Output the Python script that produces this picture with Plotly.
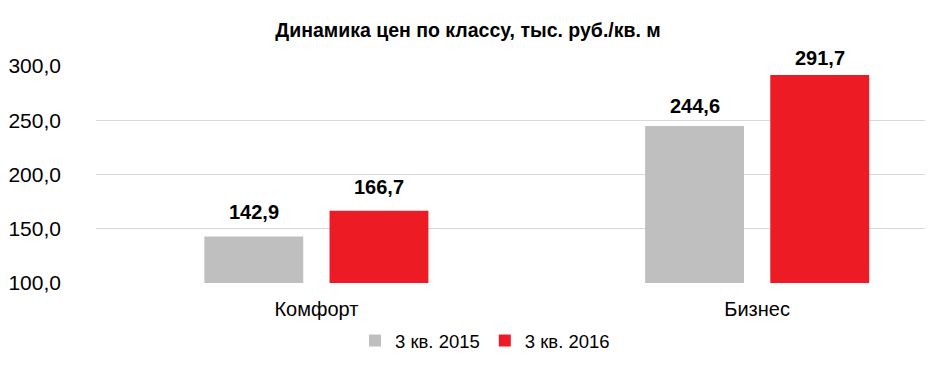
import plotly.graph_objects as go

categories = ["Комфорт", "Бизнес"]
series_names = ["3 кв. 2015", "3 кв. 2016"]
values_2015 = [142.9, 244.6]
values_2016 = [166.7, 291.7]
colors = ["#BFBFBF", "#ED1C24"]
label_gaps_2015 = [15, 11]
label_gaps_2016 = [15, 8]
tick_vals = [100, 150, 200, 250, 300]
tick_text = ["100,0", "150,0", "200,0", "250,0", "300,0"]
title_text = "Динамика цен по классу, тыс. руб./кв. м"

BARGAP = 0.432
BARGROUPGAP = 0.21

def fmt(v):
    return f"{v:.1f}".replace(".", ",")

fig = go.Figure()
for name, vals, col in zip(series_names, [values_2015, values_2016], colors):
    fig.add_trace(go.Bar(
        x=categories, y=[v - 100 for v in vals], base=100, name=name,
        marker=dict(color=col, line=dict(width=0)),
        hoverinfo="skip",
    ))

slot = (1 - BARGAP) / 2
for si, (vals, gaps) in enumerate([(values_2015, label_gaps_2015),
                                   (values_2016, label_gaps_2016)]):
    off = (si - 0.5) * slot
    for ci, (v, g) in enumerate(zip(vals, gaps)):
        fig.add_annotation(
            x=ci + off, y=v, xref="x", yref="y",
            text="<b>" + fmt(v) + "</b>", showarrow=False,
            xanchor="center", yanchor="bottom", yshift=g - 4,
            font=dict(family="Liberation Sans, Arial", size=20, color="#000000"),
        )

fig.update_layout(
    width=933, height=380,
    margin=dict(l=88, r=8, t=58, b=105, autoexpand=False),
    paper_bgcolor="white", plot_bgcolor="white",
    barmode="group", bargap=BARGAP, bargroupgap=BARGROUPGAP,
    font=dict(family="Liberation Sans, Arial", color="#000000"),
    title=dict(text="<b>" + title_text + "</b>", x=(468 - 8) / 933, xanchor="center",
               xref="container", y=1 - 22 / 380, yanchor="middle",
               font=dict(size=19.5, color="#000000")),
    showlegend=True,
    legend=dict(orientation="h", x=(485 - 96) / 837, xanchor="center",
                y=-(341 - 283) / 217, yanchor="middle",
                font=dict(size=18.5, color="#000000"), itemwidth=30,
                traceorder="normal"),
)
fig.update_xaxes(range=[-0.5, 1.399], showgrid=False, showline=False,
                 ticks="", tickfont=dict(size=20, color="#000000"),
                 ticklabelstandoff=12, automargin=False)
fig.update_yaxes(range=[100, 300], tickvals=tick_vals, ticktext=tick_text,
                 showgrid=True, gridcolor="#D9D9D9", gridwidth=1,
                 zeroline=False, showline=False, ticks="",
                 tickfont=dict(size=21, color="#000000"),
                 ticklabelstandoff=34, automargin=False)

fig.write_html("out.html")
